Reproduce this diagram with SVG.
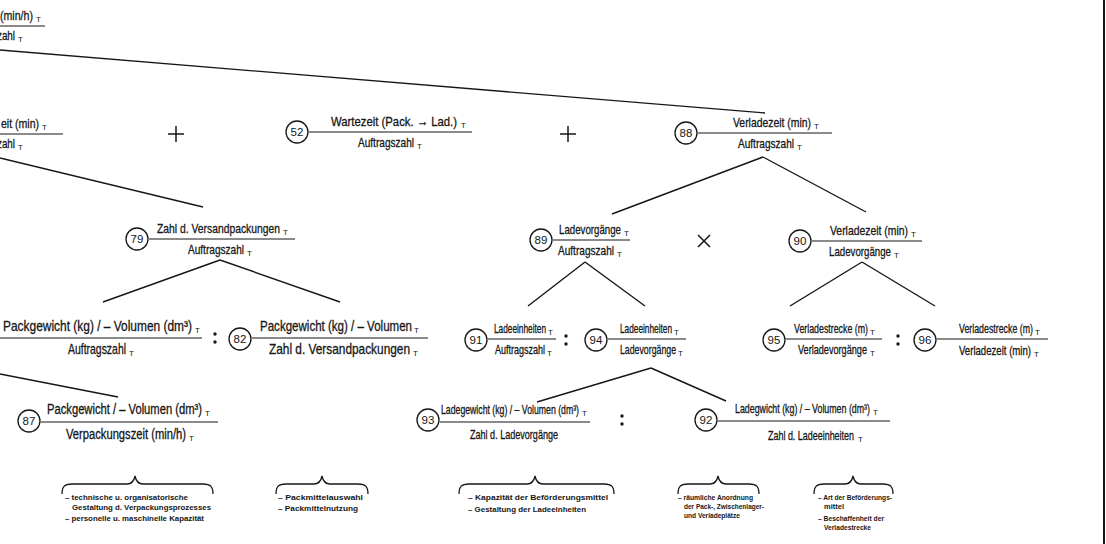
<svg xmlns="http://www.w3.org/2000/svg" width="1106" height="544" viewBox="0 0 1106 544">
<style>
.bg{fill:#ffffff}
text{font-family:"Liberation Sans Narrow","Liberation Sans",Arial,sans-serif;fill:#161616}
.r1,.r3,.r3s,.r4,.r4s{stroke:#161616;stroke-width:0.3}
.r1{font-size:13.5px}
.r3{font-size:14.6px}
.r3s{font-size:12.5px}
.r4{font-size:13.8px}
.r4s{font-size:13px}
.s{font-size:8px}
.num{font-size:11.5px;text-anchor:middle}
.m{text-anchor:middle}
.note{font-size:7.6px;font-weight:bold}
.fl{stroke:#161616;stroke-width:1.2;fill:none}
.cn{stroke:#161616;stroke-width:1.4;fill:none}
.cir{stroke:#161616;stroke-width:1.3;fill:#ffffff}
.op{stroke:#161616;stroke-width:1.5;fill:none}
.dot{fill:#161616}
.br{stroke:#161616;stroke-width:1.3;fill:none}
</style>
<rect class="bg" x="0" y="0" width="1106" height="544"/>
<line x1="1104" y1="0" x2="1104" y2="544" stroke="#161616" stroke-width="2"/>

<g id="connectors">
<line class="cn" x1="0" y1="50" x2="765" y2="113"/>
<line class="cn" x1="0" y1="158" x2="203" y2="207"/>
<line class="cn" x1="763" y1="157" x2="612" y2="214"/>
<line class="cn" x1="763" y1="157" x2="866" y2="212"/>
<line class="cn" x1="220" y1="260" x2="103" y2="302"/>
<line class="cn" x1="220" y1="260" x2="340" y2="302"/>
<line class="cn" x1="585" y1="262" x2="528" y2="306"/>
<line class="cn" x1="585" y1="262" x2="645" y2="306"/>
<line class="cn" x1="862" y1="262" x2="790" y2="306"/>
<line class="cn" x1="862" y1="262" x2="935" y2="306"/>
<line class="cn" x1="0" y1="374" x2="118" y2="397"/>
<line class="cn" x1="651" y1="368" x2="537" y2="402"/>
<line class="cn" x1="651" y1="368" x2="726" y2="401"/>
</g>

<g id="operators">
<path class="op" d="M168,134 H184 M176,126 V142"/>
<path class="op" d="M560,134 H576 M568,126 V142"/>
<path class="op" d="M698,235 L710,247 M710,235 L698,247"/>
<circle class="dot" cx="215" cy="334" r="1.7"/><circle class="dot" cx="215" cy="342" r="1.7"/>
<circle class="dot" cx="566" cy="336" r="1.7"/><circle class="dot" cx="566" cy="344" r="1.7"/>
<circle class="dot" cx="898" cy="336" r="1.7"/><circle class="dot" cx="898" cy="344" r="1.7"/>
<circle class="dot" cx="622" cy="416" r="1.7"/><circle class="dot" cx="622" cy="424" r="1.7"/>
</g>

<g id="n-top">
<text class="r1" x="0" y="20" textLength="33" lengthAdjust="spacingAndGlyphs">(min/h)</text>
<text class="s" x="36" y="22">T</text>
<line class="fl" x1="0" y1="26" x2="45" y2="26"/>
<text class="r1" x="-3" y="40" textLength="18" lengthAdjust="spacingAndGlyphs">zahl</text>
<text class="s" x="18" y="42">T</text>
</g>

<g id="n-left1">
<text class="r1" x="1" y="128" textLength="38" lengthAdjust="spacingAndGlyphs">eit (min)</text>
<text class="s" x="42" y="130">T</text>
<line class="fl" x1="0" y1="134" x2="63" y2="134"/>
<text class="r1" x="-3" y="148" textLength="18" lengthAdjust="spacingAndGlyphs">zahl</text>
<text class="s" x="18" y="150">T</text>
</g>

<g id="n52">
<circle class="cir" cx="297" cy="132" r="11"/>
<text class="num" x="297" y="136">52</text>
<line class="fl" x1="309" y1="132" x2="472" y2="132"/>
<text class="r1" x="331" y="126" textLength="126" lengthAdjust="spacingAndGlyphs">Wartezeit (Pack. → Lad.)</text>
<text class="s" x="461" y="128">T</text>
<text class="r1" x="358" y="147" textLength="56" lengthAdjust="spacingAndGlyphs">Auftragszahl</text>
<text class="s" x="417" y="149">T</text>
</g>

<g id="n88">
<circle class="cir" cx="686" cy="133" r="11"/>
<text class="num" x="686" y="137">88</text>
<line class="fl" x1="698" y1="133" x2="832" y2="133"/>
<text class="r1" x="733" y="127" textLength="78" lengthAdjust="spacingAndGlyphs">Verladezeit (min)</text>
<text class="s" x="814" y="129">T</text>
<text class="r1" x="738" y="148" textLength="56" lengthAdjust="spacingAndGlyphs">Auftragszahl</text>
<text class="s" x="797" y="150">T</text>
</g>

<g id="n79">
<circle class="cir" cx="137" cy="239" r="11"/>
<text class="num" x="137" y="243">79</text>
<line class="fl" x1="149" y1="239" x2="295" y2="239"/>
<text class="r1" x="157" y="233" textLength="123" lengthAdjust="spacingAndGlyphs">Zahl d. Versandpackungen</text>
<text class="s" x="283" y="235">T</text>
<text class="r1" x="188" y="254" textLength="56" lengthAdjust="spacingAndGlyphs">Auftragszahl</text>
<text class="s" x="247" y="256">T</text>
</g>

<g id="n89">
<circle class="cir" cx="541" cy="240" r="11"/>
<text class="num" x="541" y="244">89</text>
<line class="fl" x1="553" y1="240" x2="630" y2="240"/>
<text class="r1" x="559" y="234" textLength="62" lengthAdjust="spacingAndGlyphs">Ladevorgänge</text>
<text class="s" x="624" y="236">T</text>
<text class="r1" x="558" y="255" textLength="56" lengthAdjust="spacingAndGlyphs">Auftragszahl</text>
<text class="s" x="617" y="257">T</text>
</g>

<g id="n90">
<circle class="cir" cx="800" cy="241" r="11"/>
<text class="num" x="800" y="245">90</text>
<line class="fl" x1="812" y1="241" x2="922" y2="241"/>
<text class="r1" x="830" y="235" textLength="78" lengthAdjust="spacingAndGlyphs">Verladezeit (min)</text>
<text class="s" x="911" y="237">T</text>
<text class="r1" x="829" y="256" textLength="62" lengthAdjust="spacingAndGlyphs">Ladevorgänge</text>
<text class="s" x="894" y="258">T</text>
</g>

<g id="n-left3">
<text class="r3" x="3" y="331" textLength="189" lengthAdjust="spacingAndGlyphs">Packgewicht (kg) / – Volumen (dm³)</text>
<text class="s" x="195" y="333">T</text>
<line class="fl" x1="0" y1="338" x2="202" y2="338"/>
<text class="r3" x="68" y="354" textLength="58" lengthAdjust="spacingAndGlyphs">Auftragszahl</text>
<text class="s" x="129" y="356">T</text>
</g>

<g id="n82">
<circle class="cir" cx="240" cy="339" r="11"/>
<text class="num" x="240" y="343">82</text>
<line class="fl" x1="252" y1="338" x2="428" y2="338"/>
<text class="r3" x="260" y="331" textLength="152" lengthAdjust="spacingAndGlyphs">Packgewicht (kg) / – Volumen</text>
<text class="s" x="414" y="333">T</text>
<text class="r3" x="269" y="354" textLength="141" lengthAdjust="spacingAndGlyphs">Zahl d. Versandpackungen</text>
<text class="s" x="413" y="356">T</text>
</g>

<g id="n91">
<circle class="cir" cx="476" cy="340" r="11"/>
<text class="num" x="476" y="344">91</text>
<line class="fl" x1="488" y1="339" x2="556" y2="339"/>
<text class="r3s" x="494" y="333" textLength="52" lengthAdjust="spacingAndGlyphs">Ladeeinheiten</text>
<text class="s" x="548" y="335">T</text>
<text class="r3s" x="495" y="354" textLength="50" lengthAdjust="spacingAndGlyphs">Auftragszahl</text>
<text class="s" x="547" y="356">T</text>
</g>

<g id="n94">
<circle class="cir" cx="596" cy="340" r="11"/>
<text class="num" x="596" y="344">94</text>
<line class="fl" x1="608" y1="339" x2="686" y2="339"/>
<text class="r3s" x="620" y="333" textLength="52" lengthAdjust="spacingAndGlyphs">Ladeeinheiten</text>
<text class="s" x="674" y="335">T</text>
<text class="r3s" x="620" y="354" textLength="56" lengthAdjust="spacingAndGlyphs">Ladevorgänge</text>
<text class="s" x="678" y="356">T</text>
</g>

<g id="n95">
<circle class="cir" cx="774" cy="340" r="11"/>
<text class="num" x="774" y="344">95</text>
<line class="fl" x1="786" y1="339" x2="882" y2="339"/>
<text class="r3s" x="794" y="333" textLength="74" lengthAdjust="spacingAndGlyphs">Verladestrecke (m)</text>
<text class="s" x="870" y="335">T</text>
<text class="r3s" x="798" y="354" textLength="69" lengthAdjust="spacingAndGlyphs">Verladevorgänge</text>
<text class="s" x="870" y="356">T</text>
</g>

<g id="n96">
<circle class="cir" cx="925" cy="340" r="11"/>
<text class="num" x="925" y="344">96</text>
<line class="fl" x1="937" y1="339" x2="1048" y2="339"/>
<text class="r3s" x="959" y="333" textLength="74" lengthAdjust="spacingAndGlyphs">Verladestrecke (m)</text>
<text class="s" x="1035" y="335">T</text>
<text class="r3s" x="959" y="355" textLength="72" lengthAdjust="spacingAndGlyphs">Verladezeit (min)</text>
<text class="s" x="1034" y="357">T</text>
</g>

<g id="n87">
<circle class="cir" cx="29" cy="421" r="11"/>
<text class="num" x="29" y="425">87</text>
<line class="fl" x1="41" y1="422" x2="218" y2="422"/>
<text class="r4" x="47" y="414" textLength="155" lengthAdjust="spacingAndGlyphs">Packgewicht / – Volumen (dm³)</text>
<text class="s" x="205" y="416">T</text>
<text class="r4" x="66" y="439" textLength="120" lengthAdjust="spacingAndGlyphs">Verpackungszeit (min/h)</text>
<text class="s" x="189" y="441">T</text>
</g>

<g id="n93">
<circle class="cir" cx="428" cy="420" r="11"/>
<text class="num" x="428" y="424">93</text>
<line class="fl" x1="440" y1="422" x2="590" y2="422"/>
<text class="r4s" x="441" y="414" textLength="138" lengthAdjust="spacingAndGlyphs">Ladegewicht (kg) / – Volumen (dm³)</text>
<text class="s" x="582" y="416">T</text>
<text class="r4s m" x="514" y="439" textLength="88" lengthAdjust="spacingAndGlyphs">Zahl d. Ladevorgänge</text>
</g>

<g id="n92">
<circle class="cir" cx="706" cy="420" r="11"/>
<text class="num" x="706" y="424">92</text>
<line class="fl" x1="718" y1="421" x2="890" y2="421"/>
<text class="r4s" x="735" y="413" textLength="135" lengthAdjust="spacingAndGlyphs">Ladegwicht (kg) / – Volumen (dm³)</text>
<text class="s" x="873" y="415">T</text>
<text class="r4s" x="768" y="440" textLength="86" lengthAdjust="spacingAndGlyphs">Zahl d. Ladeeinheiten</text>
<text class="s" x="858" y="442">T</text>
</g>

<g id="note1">
<path class="br" d="M62,494 C62,487 64,484 72,484 L127,484 C132,484 134,481 135,476 C136,481 138,484 143,484 L203,484 C211,484 213,487 213,494"/>
<text class="note" x="65" y="500" textLength="123" lengthAdjust="spacingAndGlyphs">– technische u. organisatorische</text>
<text class="note" x="72" y="510" textLength="139" lengthAdjust="spacingAndGlyphs">Gestaltung d. Verpackungsprozesses</text>
<text class="note" x="65" y="521" textLength="139" lengthAdjust="spacingAndGlyphs">– personelle u. maschinelle Kapazität</text>
</g>

<g id="note2">
<path class="br" d="M276,494 C276,487 278,484 286,484 L314,484 C319,484 321,481 322,476 C323,481 325,484 330,484 L358,484 C366,484 368,487 368,494"/>
<text class="note" x="278" y="500" textLength="85" lengthAdjust="spacingAndGlyphs">– Packmittelauswahl</text>
<text class="note" x="278" y="511" textLength="80" lengthAdjust="spacingAndGlyphs">– Packmittelnutzung</text>
</g>

<g id="note3">
<path class="br" d="M459,494 C459,487 461,484 469,484 L527,484 C532,484 534,481 535,476 C536,481 538,484 543,484 L604,484 C612,484 614,487 614,494"/>
<text class="note" x="468" y="500" textLength="140" lengthAdjust="spacingAndGlyphs">– Kapazität der Beförderungsmittel</text>
<text class="note" x="468" y="512" textLength="118" lengthAdjust="spacingAndGlyphs">– Gestaltung der Ladeeinheiten</text>
</g>

<g id="note4">
<path class="br" d="M678,494 C678,487 680,484 688,484 L710,484 C715,484 717,481 718,476 C719,481 721,484 726,484 L749,484 C757,484 759,487 759,494"/>
<text class="note" x="678" y="500" textLength="75" lengthAdjust="spacingAndGlyphs">– räumliche Anordnung</text>
<text class="note" x="684" y="509" textLength="80" lengthAdjust="spacingAndGlyphs">der Pack-, Zwischenlager-</text>
<text class="note" x="684" y="518" textLength="56" lengthAdjust="spacingAndGlyphs">und Verladeplätze</text>
</g>

<g id="note5">
<path class="br" d="M814,494 C814,487 816,484 824,484 L845,484 C850,484 852,481 853,476 C854,481 856,484 861,484 L883,484 C891,484 893,487 893,494"/>
<text class="note" x="818" y="500" textLength="74" lengthAdjust="spacingAndGlyphs">– Art der Beförderungs-</text>
<text class="note" x="824" y="509" textLength="20" lengthAdjust="spacingAndGlyphs">mittel</text>
<text class="note" x="818" y="521" textLength="66" lengthAdjust="spacingAndGlyphs">– Beschaffenheit der</text>
<text class="note" x="824" y="530" textLength="47" lengthAdjust="spacingAndGlyphs">Verladestrecke</text>
</g>
</svg>
